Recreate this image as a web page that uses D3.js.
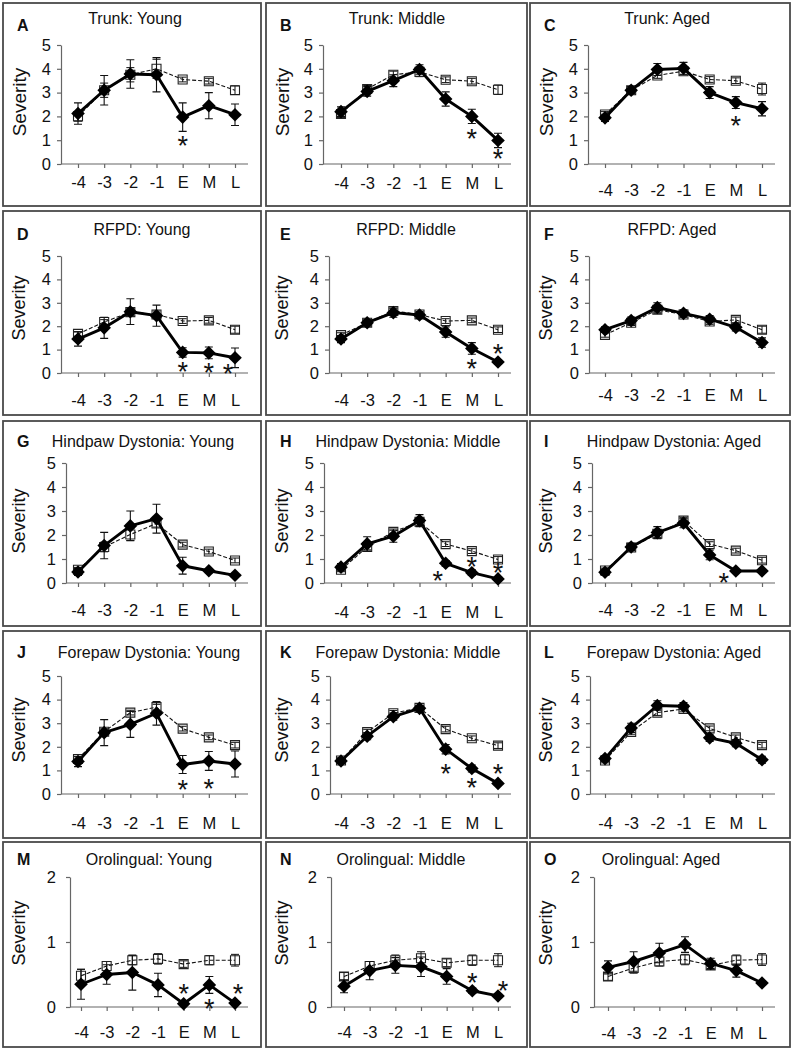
<!DOCTYPE html>
<html><head><meta charset="utf-8">
<script src="https://cdn.jsdelivr.net/npm/d3@7"></script>
<style>
body{margin:0;background:#fff}
svg{display:block}
text{font-family:"Liberation Sans",Arial,sans-serif;fill:#111}
</style>
</head><body>
<svg id="c" width="792" height="1050"></svg>
<script>
// ---------- data ----------
const categories = ["-4","-3","-2","-1","E","M","L"];
const ticksSeverity = [0,1,2,3,4,5];
const ticksOrolingual = [0,1,2];
const panelLetters = ["A","B","C","D","E","F","G","H","I","J","K","L","M","N","O"];
const panelTitles = [
  "Trunk: Young","Trunk: Middle","Trunk: Aged",
  "RFPD: Young","RFPD: Middle","RFPD: Aged",
  "Hindpaw Dystonia: Young","Hindpaw Dystonia: Middle","Hindpaw Dystonia: Aged",
  "Forepaw Dystonia: Young","Forepaw Dystonia: Middle","Forepaw Dystonia: Aged",
  "Orolingual: Young","Orolingual: Middle","Orolingual: Aged"
];
// filled diamonds (solid line)
const solidMean = [
  [2.12,3.10,3.78,3.75,1.97,2.45,2.07],
  [2.20,3.05,3.50,3.97,2.73,2.00,0.99],
  [1.94,3.10,3.97,4.02,3.00,2.58,2.32],
  [1.45,1.93,2.62,2.45,0.88,0.86,0.65],
  [1.45,2.15,2.58,2.48,1.75,1.05,0.47],
  [1.85,2.24,2.80,2.55,2.30,1.95,1.30],
  [0.46,1.56,2.38,2.68,0.72,0.51,0.32],
  [0.66,1.63,1.95,2.60,0.82,0.43,0.17],
  [0.45,1.50,2.10,2.50,1.17,0.50,0.50],
  [1.38,2.60,2.95,3.42,1.25,1.40,1.27],
  [1.40,2.45,3.28,3.63,1.90,1.08,0.45],
  [1.50,2.80,3.75,3.72,2.38,2.15,1.45],
  [0.35,0.50,0.53,0.34,0.05,0.34,0.06],
  [0.32,0.56,0.64,0.62,0.47,0.25,0.17],
  [0.61,0.70,0.83,0.96,0.67,0.56,0.37]
];
const solidErr = [
  [0.45,0.62,0.60,0.72,0.60,0.55,0.45],
  [0.20,0.20,0.25,0.20,0.30,0.30,0.30],
  [0.15,0.15,0.25,0.25,0.25,0.25,0.30],
  [0.30,0.45,0.55,0.45,0.20,0.25,0.42],
  [0.15,0.15,0.20,0.15,0.22,0.25,0.10],
  [0.12,0.15,0.20,0.15,0.15,0.15,0.20],
  [0.15,0.55,0.62,0.60,0.35,0.08,0.05],
  [0.15,0.30,0.25,0.25,0.12,0.12,0.08],
  [0.12,0.15,0.25,0.20,0.20,0.05,0.05],
  [0.22,0.55,0.55,0.50,0.38,0.40,0.55],
  [0.12,0.15,0.15,0.12,0.20,0.15,0.08],
  [0.12,0.20,0.20,0.15,0.15,0.15,0.15],
  [0.23,0.15,0.27,0.18,0.02,0.13,0.02],
  [0.10,0.14,0.12,0.15,0.12,0.04,0.03],
  [0.10,0.15,0.15,0.12,0.08,0.10,0.03]
];
// open squares (dashed line)
const openMean = [
  [2.00,3.10,3.75,4.00,3.55,3.48,3.10],
  [2.10,3.15,3.75,3.87,3.54,3.48,3.12],
  [2.08,3.10,3.72,3.90,3.55,3.50,3.15],
  [1.67,2.18,2.60,2.50,2.22,2.25,1.85],
  [1.62,2.15,2.65,2.50,2.22,2.25,1.85],
  [1.63,2.15,2.70,2.50,2.20,2.27,1.85],
  [0.55,1.50,2.02,2.48,1.60,1.31,0.94],
  [0.55,1.50,2.13,2.55,1.62,1.33,0.98],
  [0.52,1.48,2.05,2.60,1.62,1.35,0.95],
  [1.48,2.64,3.45,3.68,2.77,2.40,2.07],
  [1.42,2.62,3.42,3.65,2.75,2.36,2.05],
  [1.42,2.63,3.45,3.60,2.78,2.40,2.07],
  [0.48,0.63,0.72,0.74,0.66,0.72,0.72],
  [0.47,0.63,0.72,0.75,0.68,0.72,0.72],
  [0.47,0.60,0.70,0.73,0.64,0.72,0.73]
];
const openErr = [
  [0.20,0.30,0.30,0.40,0.10,0.12,0.18],
  [0.15,0.15,0.15,0.20,0.12,0.12,0.20],
  [0.12,0.15,0.12,0.15,0.12,0.12,0.25],
  [0.10,0.10,0.15,0.15,0.10,0.12,0.15],
  [0.10,0.10,0.12,0.10,0.10,0.10,0.12],
  [0.10,0.12,0.15,0.12,0.12,0.12,0.15],
  [0.10,0.20,0.25,0.15,0.10,0.10,0.10],
  [0.08,0.12,0.12,0.15,0.10,0.10,0.12],
  [0.10,0.12,0.15,0.12,0.10,0.10,0.12],
  [0.10,0.12,0.10,0.12,0.10,0.10,0.12],
  [0.10,0.12,0.12,0.10,0.12,0.10,0.12],
  [0.10,0.12,0.12,0.12,0.10,0.10,0.12],
  [0.10,0.07,0.07,0.08,0.05,0.07,0.09],
  [0.06,0.07,0.08,0.10,0.06,0.08,0.10],
  [0.06,0.08,0.07,0.08,0.06,0.08,0.09]
];
// significance asterisks: [category, severity level of the star]
const asterisks = [
  [["E",0.95]],
  [["M",1.25],["L",0.40]],
  [["M",1.80]],
  [["E",0.26],["M",0.21],["L",0.19]],
  [["M",0.40],["L",1.04]],
  [],
  [],
  [["E",0.31],["M",0.88],["L",0.61]],
  [["M",0.20]],
  [["E",0.38],["M",0.41]],
  [["E",1.06],["M",0.45],["L",1.06]],
  [],
  [["E",0.28],["M",0.05],["L",0.27]],
  [["M",0.44],["L",0.32]],
  []
];

// ---------- layout ----------
const colLeft = [3,266,530], colWidth = [258,261,260];
const rowTop = [3,211,421,631,842], rowHeight = [203,204,205,207,205];
const plotTop = [42,45,42,45,35], plotBottom = [161,162,162,163,165];
const axisLeftX = [58,57,58, 58,63,59, 63,58,62, 58,64,60, 67,65,64];
const titleX = [132,131,137, 139,140,142, 140,142,144, 146,142,144, 146,135,131];
const titleBase = [21,24,26,27,23];
const letterBase = [28,29,26,27,23];
const labelGap = [17.5,19,25.7, 27,27,22, 27,28.5,27, 29,29,29, 25,25,26];
const sevY = [99,97,100,99,91];
const starDx = [
  [0],[0,0],[0],[0,0,-7],[0,0],[],[],[-8,0,0],[-12],[0,0],[0,0,0],[],[0,0,3],[0,5],[]
];

const svg = d3.select("#c");
const diamond = "M0,-6.8L6.8,0L0,6.8L-6.8,0Z";
const square = "M-4.5,-4.5H4.5V4.5H-4.5Z";

for (let i = 0; i < 15; i++) {
  const r = Math.floor(i / 3), c = i % 3;
  const g = svg.append("g").attr("transform", `translate(${colLeft[c]},${rowTop[r]})`);
  g.append("rect").attr("x", 0).attr("y", 0)
    .attr("width", colWidth[c]).attr("height", rowHeight[r])
    .attr("fill", "none").attr("stroke", "#4a4a4a").attr("stroke-width", 1.8);

  const oro = r === 4;
  const yMax = oro ? 2 : 5;
  const y = d3.scaleLinear().domain([0, yMax]).range([plotBottom[r], plotTop[r]]);
  const x = d3.scalePoint().domain(categories).range([oro ? 78 : 75, 232]);
  const aL = axisLeftX[i];

  // y axis
  const ya = g.append("g").attr("transform", `translate(${aL},0)`)
    .call(d3.axisLeft(y).tickValues(oro ? ticksOrolingual : ticksSeverity)
      .tickSize(4).tickSizeOuter(0).tickPadding(oro ? 10 : 6).tickFormat(d3.format("d")));
  // x axis
  const xa = g.append("g").attr("transform", `translate(0,${y(0)})`)
    .call(d3.axisBottom(x).tickSize(4).tickSizeOuter(0).tickPadding(labelGap[i] - 9.6));
  xa.select(".domain").attr("d", `M${aL},0H245`);
  [ya, xa].forEach(a => {
    a.attr("font-family", null).attr("font-size", null);
    a.selectAll(".domain").attr("stroke", "#666").attr("stroke-width", 1.2);
    a.selectAll(".tick line").attr("stroke", "#666").attr("stroke-width", 1.2);
    a.selectAll(".tick text").attr("fill", "#111").style("font-size", "16.5px")
      .style("font-family", '"Liberation Sans",Arial,sans-serif');
  });

  // texts
  g.append("text").attr("x", titleX[i]).attr("y", titleBase[r])
    .attr("text-anchor", "middle").style("font-size", "16px").text(panelTitles[i]);
  g.append("text").attr("x", 14).attr("y", letterBase[r])
    .style("font-size", "16px").style("font-weight", "bold").text(panelLetters[i]);
  g.append("text").attr("transform", `translate(16,${sevY[r]}) rotate(-90)`)
    .attr("text-anchor", "middle").attr("dominant-baseline", "central")
    .style("font-size", r === 0 ? "19px" : "18px").text("Severity");

  const line = d3.line().x((d, j) => x(categories[j])).y(d => y(d));
  const drawErr = (means, errs, w) => {
    const eg = g.append("g").attr("stroke", "#111").attr("stroke-width", w);
    means.forEach((m, j) => {
      const cx = x(categories[j]);
      const lo = y(Math.max(0, m - errs[j])), hi = y(m + errs[j]);
      eg.append("path").attr("d", `M${cx},${lo}V${hi}M${cx - 4},${lo}H${cx + 4}M${cx - 4},${hi}H${cx + 4}`)
        .attr("fill", "none");
    });
  };

  // open series
  g.append("path").attr("d", line(openMean[i])).attr("fill", "none")
    .attr("stroke", "#111").attr("stroke-width", 1.1).attr("stroke-dasharray", "4,2");
  drawErr(openMean[i], openErr[i], 1);
  g.selectAll(null).data(openMean[i]).enter().append("path")
    .attr("d", square)
    .attr("transform", (d, j) => `translate(${x(categories[j])},${y(d)})`)
    .attr("fill", "none").attr("stroke", "#222").attr("stroke-width", 1.1);

  // filled series
  g.append("path").attr("d", line(solidMean[i])).attr("fill", "none")
    .attr("stroke", "#000").attr("stroke-width", 2.9).attr("stroke-linejoin", "round");
  drawErr(solidMean[i], solidErr[i], 1.1);
  g.selectAll(null).data(solidMean[i]).enter().append("path")
    .attr("d", diamond)
    .attr("transform", (d, j) => `translate(${x(categories[j])},${y(d)})`)
    .attr("fill", "#000");

  // asterisks
  asterisks[i].forEach((a, k) => {
    g.append("text").attr("x", x(a[0]) + starDx[i][k]).attr("y", y(a[1]) + 14)
      .attr("text-anchor", "middle").style("font-size", "27px").text("*");
  });
}
</script>
</body></html>
